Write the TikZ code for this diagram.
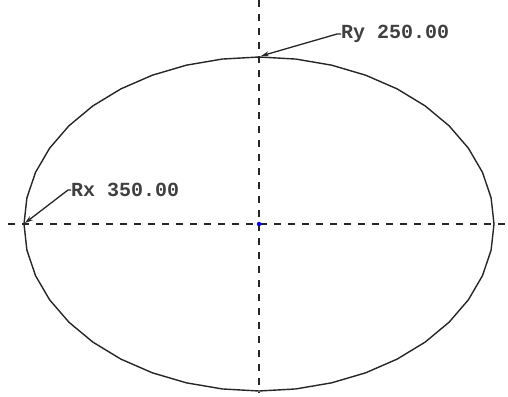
\documentclass[tikz,border=0pt]{standalone}
\usepackage{fontspec}
\newfontfamily\dimfont{Liberation Mono}
\usetikzlibrary{arrows.meta}
\tikzset{
  axisline/.style={draw=black!85, line width=1.4pt, dash pattern=on 7pt off 7pt},
  outline/.style={draw=black!85, line width=1.4pt},
  leader/.style={draw=black!85, line width=1.3pt, -{Stealth[length=8pt,width=5pt]}},
  dimtext/.style={font=\dimfont\bfseries\fontsize{20}{20}\selectfont, text=black!75, inner sep=0pt, anchor=west}
}
\begin{document}
\begin{tikzpicture}[x=1pt,y=-1pt]
\useasboundingbox (0,0) rectangle (508,396);
\coordinate (c) at (259,224);
\coordinate (vtop) at (259,0);
\coordinate (vbot) at (259,393);
\coordinate (hl) at (8,224);
\coordinate (hr) at (508,224);
\draw[axisline] (vtop) -- (vbot);
\draw[axisline] (hl) -- (hr);
\draw[outline] plot[samples=41, domain=0:360] ({259+235*cos(\x)},{224+167*sin(\x)}) -- cycle;
\coordinate (ytip) at (261,56);
\coordinate (xtip) at (25,223);
\node[dimtext] (ry) at (341,34) {Ry 250.00};
\node[dimtext] (rx) at (71,190) {Rx 350.00};
\draw[leader] (ry.west) -- ++(-4,0) -- (ytip);
\draw[leader] (rx.west) -- ++(-3,0) -- (xtip);
\fill[blue] (c) circle (2.2pt);
\end{tikzpicture}
\end{document}
